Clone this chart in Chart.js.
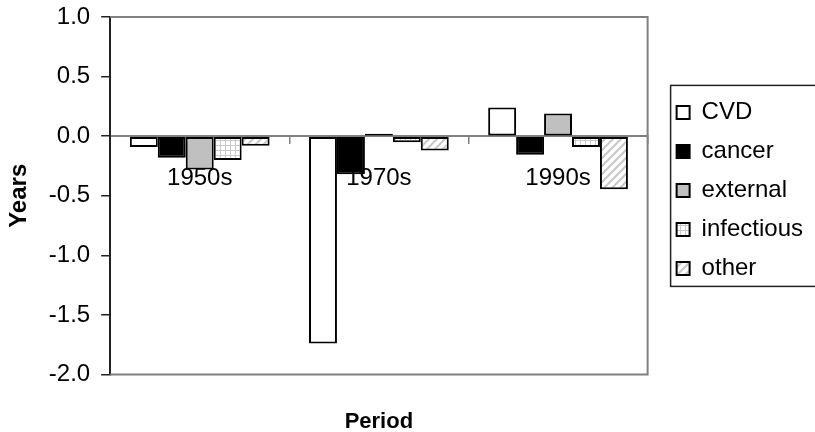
<!DOCTYPE html>
<html>
<head>
<meta charset="utf-8">
<script src="https://cdn.jsdelivr.net/npm/chart.js@4"></script>
<style>
  body { margin: 0; background: #fff; }
  #wrap { width: 815px; height: 432px; }
</style>
</head>
<body>
<div id="wrap"><canvas id="graph"></canvas></div>
<script>
// values (years)
const periods = ['1950s', '1970s', '1990s'];
const cvd = [-0.09, -1.74, 0.24];
const cancer = [-0.18, -0.32, -0.155];
const external = [-0.28, 0.02, 0.19];
const infectious = [-0.20, -0.05, -0.09];
const other = [-0.08, -0.12, -0.445];
const yTicks = [-2.0, -1.5, -1.0, -0.5, 0.0, 0.5, 1.0];

const font = 'Liberation Sans, Arial, sans-serif';

// small tiles for the hatched fills
function gridPattern() {
    const c = document.createElement('canvas');
    c.width = 5; c.height = 5;
    const g = c.getContext('2d');
    g.fillStyle = '#fff';
    g.fillRect(0, 0, 5, 5);
    g.fillStyle = '#c8c8c8';
    g.fillRect(0, 0, 5, 1);
    g.fillRect(0, 0, 1, 5);
    return g.createPattern(c, 'repeat');
}
function stripePattern() {
    const c = document.createElement('canvas');
    c.width = 8; c.height = 8;
    const g = c.getContext('2d');
    g.fillStyle = '#fff';
    g.fillRect(0, 0, 8, 8);
    g.strokeStyle = '#c8c8c8';
    g.lineWidth = 2;
    g.beginPath();
    g.moveTo(-2, 10); g.lineTo(10, -2);
    g.moveTo(-6, 6); g.lineTo(6, -6);
    g.moveTo(2, 14); g.lineTo(14, 2);
    g.stroke();
    return g.createPattern(c, 'repeat');
}

// grey frame round the plot area, and a box round the legend
const frames = {
    id: 'frames',
    afterDraw(chart) {
        const ctx = chart.ctx;
        const a = chart.chartArea;
        ctx.save();
        ctx.strokeStyle = '#808080';
        ctx.lineWidth = 2;
        ctx.beginPath();
        ctx.moveTo(a.left, a.top);
        ctx.lineTo(a.right, a.top);
        ctx.lineTo(a.right, a.bottom);
        ctx.lineTo(a.left, a.bottom);
        ctx.stroke();

        const boxes = chart.legend.legendHitBoxes;
        if (boxes && boxes.length) {
            const top = Math.min(...boxes.map(b => b.top)) - 15;
            const bottom = Math.max(...boxes.map(b => b.top + b.height)) + 6;
            const left = Math.min(...boxes.map(b => b.left)) - 6;
            ctx.lineWidth = 1.5;
            ctx.strokeStyle = '#222';
            ctx.strokeRect(left, top, chart.width + 10 - left, bottom - top);
        }
        ctx.restore();
    }
};

const series = [
    { label: 'CVD', data: cvd, backgroundColor: '#ffffff' },
    { label: 'cancer', data: cancer, backgroundColor: '#000000' },
    { label: 'external', data: external, backgroundColor: '#c0c0c0' },
    { label: 'infectious', data: infectious, backgroundColor: gridPattern() },
    { label: 'other', data: other, backgroundColor: stripePattern() }
];

const graph = document.getElementById('graph').getContext('2d');
let myChart = new Chart(graph, {
    type: 'bar',
    data: {
        labels: periods,
        datasets: series.map(s => ({
            label: s.label,
            data: s.data,
            backgroundColor: s.backgroundColor,
            borderColor: '#000',
            borderWidth: 2,
            borderSkipped: false,
            categoryPercentage: 0.78,
            barPercentage: 1.0
        }))
    },
    options: {
        responsive: true,
        maintainAspectRatio: false,
        animation: false,
        layout: { padding: { top: 17, right: 2, bottom: -3, left: 0 } },
        plugins: {
            tooltip: { enabled: false },
            legend: {
                position: 'right',
                align: 'start',
                maxWidth: 220,
                title: { display: true, text: '', padding: 0, font: { size: 57, lineHeight: 1.2 } },
                labels: {
                    color: '#000',
                    font: { family: font, size: 24 },
                    boxWidth: 13,
                    boxHeight: 13,
                    padding: 15
                }
            }
        },
        scales: {
            x: {
                type: 'category',
                position: { y: 0 },
                grid: { drawOnChartArea: false, drawTicks: true, tickLength: 7, color: '#808080', lineWidth: 1.5 },
                border: { display: true, color: '#808080', width: 2 },
                ticks: { color: '#000', font: { family: font, size: 24 }, padding: 21, maxRotation: 0 }
            },
            x2: {
                type: 'category',
                position: 'bottom',
                grid: { display: false, drawTicks: false },
                border: { display: false },
                ticks: { display: false },
                title: {
                    display: true,
                    text: 'Period',
                    color: '#000',
                    font: { family: font, size: 22, weight: 'bold' },
                    padding: { top: 34, bottom: 0 }
                }
            },
            y: {
                min: -2,
                max: 1,
                afterBuildTicks: axis => { axis.ticks = yTicks.map(v => ({ value: v })); },
                afterFit: s => { s.paddingTop = 0; s.paddingBottom = 0; },
                grid: { drawOnChartArea: false, drawTicks: true, tickLength: 9, color: '#222', lineWidth: 1.5 },
                border: { display: true, color: '#222', width: 2 },
                ticks: {
                    color: '#000',
                    font: { family: font, size: 24 },
                    padding: 11,
                    callback: v => Number(v).toFixed(1)
                },
                title: {
                    display: true,
                    text: 'Years',
                    color: '#000',
                    font: { family: font, size: 24, weight: 'bold' },
                    padding: { top: 5, bottom: 4 }
                }
            },
            gap: {
                type: 'linear',
                position: 'right',
                grid: { display: false, drawTicks: false },
                border: { display: false },
                ticks: { display: false },
                afterFit: s => { s.width = 14; s.paddingTop = 0; s.paddingBottom = 0; }
            }
        }
    },
    plugins: [frames]
});
</script>
</body>
</html>
